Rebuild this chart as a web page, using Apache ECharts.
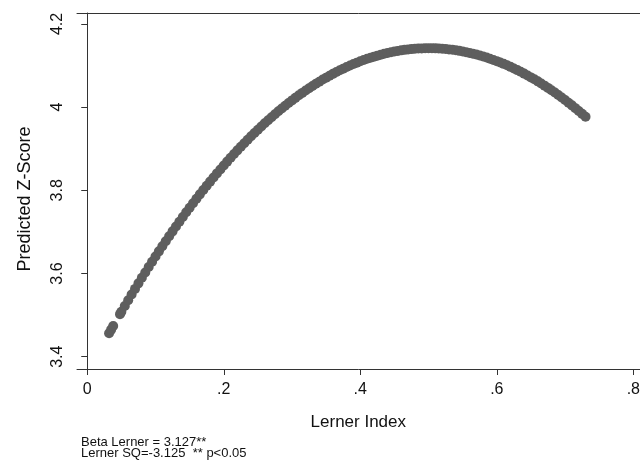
<!DOCTYPE html>
<html>
<head>
<meta charset="utf-8">
<script src="https://cdn.jsdelivr.net/npm/echarts@6/dist/echarts.min.js"></script>
<style>
html,body{margin:0;padding:0;background:#fff;}
#chart{width:643px;height:464px;}
</style>
</head>
<body>
<div id="chart"></div>
<script>
// Lerner Index values (x)
const lernerIndex = [
  0.032,0.035,0.038,0.048,
  0.050,0.055,0.060,0.065,0.070,0.075,0.080,0.085,0.090,0.095,
  0.100,0.105,0.110,0.115,0.120,0.125,0.130,0.135,0.140,0.145,
  0.150,0.155,0.160,0.165,0.170,0.175,0.180,0.185,0.190,0.195,
  0.200,0.205,0.210,0.215,0.220,0.225,0.230,0.235,0.240,0.245,
  0.250,0.255,0.260,0.265,0.270,0.275,0.280,0.285,0.290,0.295,
  0.300,0.305,0.310,0.315,0.320,0.325,0.330,0.335,0.340,0.345,
  0.350,0.355,0.360,0.365,0.370,0.375,0.380,0.385,0.390,0.395,
  0.400,0.405,0.410,0.415,0.420,0.425,0.430,0.435,0.440,0.445,
  0.450,0.455,0.460,0.465,0.470,0.475,0.480,0.485,0.490,0.495,
  0.500,0.505,0.510,0.515,0.520,0.525,0.530,0.535,0.540,0.545,
  0.550,0.555,0.560,0.565,0.570,0.575,0.580,0.585,0.590,0.595,
  0.600,0.605,0.610,0.615,0.620,0.625,0.630,0.635,0.640,0.645,
  0.650,0.655,0.660,0.665,0.670,0.675,0.680,0.685,0.690,0.695,
  0.700,0.705,0.710,0.715,0.720,0.725,0.730
];
// Predicted Z-Score values (y)
const predictedZ = [
  3.4563,3.4650,3.4737,3.5023,
  3.5079,3.5219,3.5358,3.5495,3.5630,3.5763,3.5896,3.6026,3.6155,3.6283,
  3.6409,3.6533,3.6656,3.6777,3.6896,3.7014,3.7131,3.7246,3.7359,3.7471,
  3.7581,3.7690,3.7797,3.7903,3.8007,3.8109,3.8210,3.8309,3.8407,3.8503,
  3.8598,3.8691,3.8783,3.8873,3.8961,3.9048,3.9133,3.9217,3.9299,3.9379,
  3.9458,3.9536,3.9612,3.9686,3.9759,3.9830,3.9900,3.9968,4.0034,4.0099,
  4.0163,4.0224,4.0285,4.0343,4.0400,4.0456,4.0510,4.0562,4.0613,4.0663,
  4.0710,4.0757,4.0801,4.0844,4.0886,4.0926,4.0964,4.1001,4.1036,4.1070,
  4.1102,4.1132,4.1162,4.1189,4.1215,4.1239,4.1262,4.1283,4.1303,4.1321,
  4.1337,4.1352,4.1366,4.1378,4.1388,4.1396,4.1404,4.1409,4.1413,4.1416,
  4.1416,4.1416,4.1414,4.1410,4.1404,4.1397,4.1389,4.1379,4.1367,4.1354,
  4.1339,4.1323,4.1305,4.1286,4.1265,4.1242,4.1218,4.1192,4.1165,4.1136,
  4.1106,4.1074,4.1041,4.1006,4.0969,4.0931,4.0891,4.0850,4.0807,4.0762,
  4.0716,4.0669,4.0620,4.0569,4.0517,4.0463,4.0408,4.0351,4.0292,4.0232,
  4.0171,4.0107,4.0043,3.9976,3.9908,3.9839,3.9768
];
const xTicks = [0, 0.2, 0.4, 0.6, 0.8];
const xTickLabels = ['0', '.2', '.4', '.6', '.8'];
const yTicks = [3.4, 3.6, 3.8, 4, 4.2];
const yTickLabels = ['3.4', '3.6', '3.8', '4', '4.2'];
const xTitle = 'Lerner Index';
const yTitle = 'Predicted Z-Score';
const noteLines = ['Beta Lerner = 3.127**', 'Lerner SQ=-3.125  ** p<0.05'];

const FONT = '"Liberation Sans", Arial, sans-serif';
const LINE = '#333333';

const points = lernerIndex.map((x, i) => [x, predictedZ[i]]);

function fmt(list, labels) {
  return function (v) {
    for (let i = 0; i < list.length; i++) {
      if (Math.abs(list[i] - v) < 1e-9) return labels[i];
    }
    return '';
  };
}

const chart = echarts.init(document.getElementById('chart'), null, { renderer: 'canvas' });
chart.setOption({
  backgroundColor: '#ffffff',
  animation: false,
  title: {
    text: noteLines.join('\n'),
    left: 81,
    top: 437,
    padding: 0,
    textStyle: { fontFamily: FONT, fontSize: 13, fontWeight: 'normal', color: '#111', lineHeight: 11 }
  },
  grid: { left: 77, right: 0, top: 13, bottom: 95, containLabel: false },
  xAxis: [{
    type: 'value',
    min: -0.0150,
    max: 0.8092,
    position: 'bottom',
    name: xTitle,
    nameLocation: 'middle',
    nameGap: 45,
    nameTextStyle: { fontFamily: FONT, fontSize: 17, color: '#111' },
    axisLine: { show: true, lineStyle: { color: LINE, width: 1 } },
    axisTick: { show: true, length: 6, customValues: xTicks, lineStyle: { color: LINE } },
    axisLabel: { show: true, customValues: xTicks, formatter: fmt(xTicks, xTickLabels), margin: 13,
      fontFamily: FONT, fontSize: 16, color: '#111' },
    splitLine: { show: false }
  }, {
    type: 'value',
    min: -0.0150,
    max: 0.8092,
    position: 'top',
    axisLine: { show: true, onZero: false, lineStyle: { color: LINE, width: 1 } },
    axisTick: { show: false },
    axisLabel: { show: false },
    splitLine: { show: false }
  }],
  yAxis: {
    type: 'value',
    min: 3.3704,
    max: 4.2264,
    name: yTitle,
    nameLocation: 'middle',
    nameGap: 43,
    nameRotate: 90,
    nameTextStyle: { fontFamily: FONT, fontSize: 18, color: '#111', padding: [0, 16, 0, 0] },
    axisLine: { show: true, lineStyle: { color: LINE, width: 1 } },
    axisTick: { show: true, length: 6, customValues: yTicks, lineStyle: { color: LINE } },
    axisLabel: { show: true, customValues: yTicks, formatter: fmt(yTicks, yTickLabels), rotate: 90, margin: 11,
      fontFamily: FONT, fontSize: 16, color: '#111' },
    splitLine: { show: false }
  },
  series: [{
    type: 'scatter',
    xAxisIndex: 0,
    data: points,
    symbol: 'circle',
    symbolSize: 10,
    itemStyle: { color: '#5e5e5e', opacity: 1 },
    emphasis: { disabled: true }
  }]
});
</script>
</body>
</html>
